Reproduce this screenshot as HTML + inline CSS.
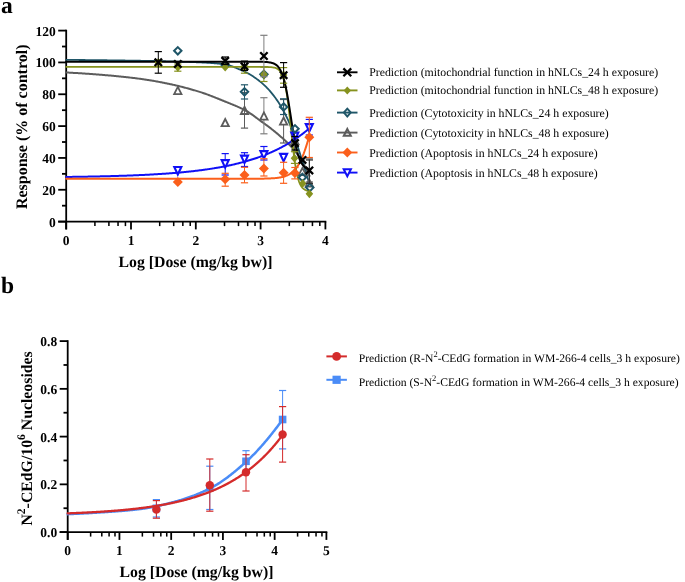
<!DOCTYPE html><html><head><meta charset="utf-8"><style>
html,body{margin:0;padding:0;background:#fff;width:685px;height:582px;overflow:hidden}
svg text{font-family:'Liberation Serif', serif;fill:#000;text-rendering:geometricPrecision}
.tk{font-size:13.5px;font-weight:bold}
.lab{font-size:15.8px;font-weight:bold}
.lg{font-size:11.8px}
.pl{font-size:23.5px;font-weight:bold}
</style></head><body>
<svg width="685" height="582" viewBox="0 0 685 582" style="will-change:transform">
<rect width="685" height="582" fill="#fff"/>
<text x="1" y="12.8" class="pl">a</text>
<text x="1" y="292.9" class="pl">b</text>
<line x1="66.2" y1="29.696000000000005" x2="66.2" y2="229.4" stroke="#000" stroke-width="1.8"/>
<line x1="58.2" y1="221.6" x2="326.29999999999995" y2="221.6" stroke="#000" stroke-width="1.8"/>
<line x1="58.2" y1="221.6" x2="66.2" y2="221.6" stroke="#000" stroke-width="1.8"/>
<line x1="58.2" y1="189.766" x2="66.2" y2="189.766" stroke="#000" stroke-width="1.8"/>
<line x1="58.2" y1="157.93200000000002" x2="66.2" y2="157.93200000000002" stroke="#000" stroke-width="1.8"/>
<line x1="58.2" y1="126.098" x2="66.2" y2="126.098" stroke="#000" stroke-width="1.8"/>
<line x1="58.2" y1="94.26400000000001" x2="66.2" y2="94.26400000000001" stroke="#000" stroke-width="1.8"/>
<line x1="58.2" y1="62.43000000000001" x2="66.2" y2="62.43000000000001" stroke="#000" stroke-width="1.8"/>
<line x1="58.2" y1="30.596000000000004" x2="66.2" y2="30.596000000000004" stroke="#000" stroke-width="1.8"/>
<line x1="62.0" y1="205.683" x2="66.2" y2="205.683" stroke="#000" stroke-width="1.8"/>
<line x1="62.0" y1="173.849" x2="66.2" y2="173.849" stroke="#000" stroke-width="1.8"/>
<line x1="62.0" y1="142.01500000000001" x2="66.2" y2="142.01500000000001" stroke="#000" stroke-width="1.8"/>
<line x1="62.0" y1="110.18100000000001" x2="66.2" y2="110.18100000000001" stroke="#000" stroke-width="1.8"/>
<line x1="62.0" y1="78.34700000000001" x2="66.2" y2="78.34700000000001" stroke="#000" stroke-width="1.8"/>
<line x1="62.0" y1="46.513000000000005" x2="66.2" y2="46.513000000000005" stroke="#000" stroke-width="1.8"/>
<line x1="66.2" y1="221.6" x2="66.2" y2="229.4" stroke="#000" stroke-width="1.8"/>
<line x1="94.91" y1="221.6" x2="94.91" y2="226.1" stroke="#000" stroke-width="1.53"/>
<line x1="108.90" y1="221.6" x2="108.90" y2="226.1" stroke="#000" stroke-width="1.53"/>
<line x1="118.04" y1="221.6" x2="118.04" y2="226.1" stroke="#000" stroke-width="1.53"/>
<line x1="125.43" y1="221.6" x2="125.43" y2="226.1" stroke="#000" stroke-width="1.53"/>
<line x1="131.0" y1="221.6" x2="131.0" y2="229.4" stroke="#000" stroke-width="1.8"/>
<line x1="159.71" y1="221.6" x2="159.71" y2="226.1" stroke="#000" stroke-width="1.53"/>
<line x1="173.70" y1="221.6" x2="173.70" y2="226.1" stroke="#000" stroke-width="1.53"/>
<line x1="182.84" y1="221.6" x2="182.84" y2="226.1" stroke="#000" stroke-width="1.53"/>
<line x1="190.23" y1="221.6" x2="190.23" y2="226.1" stroke="#000" stroke-width="1.53"/>
<line x1="195.8" y1="221.6" x2="195.8" y2="229.4" stroke="#000" stroke-width="1.8"/>
<line x1="224.51" y1="221.6" x2="224.51" y2="226.1" stroke="#000" stroke-width="1.53"/>
<line x1="238.50" y1="221.6" x2="238.50" y2="226.1" stroke="#000" stroke-width="1.53"/>
<line x1="247.64" y1="221.6" x2="247.64" y2="226.1" stroke="#000" stroke-width="1.53"/>
<line x1="255.03" y1="221.6" x2="255.03" y2="226.1" stroke="#000" stroke-width="1.53"/>
<line x1="260.59999999999997" y1="221.6" x2="260.59999999999997" y2="229.4" stroke="#000" stroke-width="1.8"/>
<line x1="289.31" y1="221.6" x2="289.31" y2="226.1" stroke="#000" stroke-width="1.53"/>
<line x1="303.30" y1="221.6" x2="303.30" y2="226.1" stroke="#000" stroke-width="1.53"/>
<line x1="312.44" y1="221.6" x2="312.44" y2="226.1" stroke="#000" stroke-width="1.53"/>
<line x1="319.83" y1="221.6" x2="319.83" y2="226.1" stroke="#000" stroke-width="1.53"/>
<line x1="325.4" y1="221.6" x2="325.4" y2="229.4" stroke="#000" stroke-width="1.8"/>
<text x="55.8" y="226.50" text-anchor="end" class="tk">0</text>
<text x="55.8" y="194.67" text-anchor="end" class="tk">20</text>
<text x="55.8" y="162.83" text-anchor="end" class="tk">40</text>
<text x="55.8" y="131.00" text-anchor="end" class="tk">60</text>
<text x="55.8" y="99.16" text-anchor="end" class="tk">80</text>
<text x="55.8" y="67.33" text-anchor="end" class="tk">100</text>
<text x="55.8" y="35.50" text-anchor="end" class="tk">120</text>
<text x="66.20" y="244.7" text-anchor="middle" class="tk">0</text>
<text x="131.00" y="244.7" text-anchor="middle" class="tk">1</text>
<text x="195.80" y="244.7" text-anchor="middle" class="tk">2</text>
<text x="260.60" y="244.7" text-anchor="middle" class="tk">3</text>
<text x="325.40" y="244.7" text-anchor="middle" class="tk">4</text>
<text x="195.5" y="266.8" text-anchor="middle" class="lab">Log [Dose (mg/kg bw)]</text>
<text transform="translate(27.4,126.8) rotate(-90)" text-anchor="middle" class="lab" style="font-size:16px">Response (% of control)</text>
<path d="M66.20,72.50 L67.01,72.54 L67.83,72.58 L68.64,72.62 L69.45,72.66 L70.27,72.70 L71.08,72.75 L71.90,72.79 L72.71,72.84 L73.52,72.88 L74.34,72.93 L75.15,72.98 L75.96,73.02 L76.78,73.07 L77.59,73.12 L78.41,73.17 L79.22,73.22 L80.03,73.27 L80.85,73.32 L81.66,73.37 L82.47,73.43 L83.29,73.48 L84.10,73.53 L84.92,73.59 L85.73,73.64 L86.54,73.70 L87.36,73.76 L88.17,73.81 L88.98,73.87 L89.80,73.93 L90.61,73.99 L91.43,74.05 L92.24,74.11 L93.05,74.17 L93.87,74.23 L94.68,74.29 L95.49,74.35 L96.31,74.41 L97.12,74.47 L97.93,74.54 L98.75,74.60 L99.56,74.67 L100.38,74.73 L101.19,74.79 L102.00,74.86 L102.82,74.93 L103.63,74.99 L104.44,75.06 L105.26,75.13 L106.07,75.20 L106.89,75.27 L107.70,75.34 L108.51,75.41 L109.33,75.48 L110.14,75.55 L110.95,75.62 L111.77,75.70 L112.58,75.77 L113.40,75.85 L114.21,75.92 L115.02,76.00 L115.84,76.08 L116.65,76.16 L117.46,76.24 L118.28,76.32 L119.09,76.40 L119.91,76.48 L120.72,76.56 L121.53,76.65 L122.35,76.73 L123.16,76.81 L123.97,76.90 L124.79,76.99 L125.60,77.08 L126.41,77.17 L127.23,77.26 L128.04,77.35 L128.86,77.44 L129.67,77.53 L130.48,77.62 L131.30,77.72 L132.11,77.82 L132.92,77.91 L133.74,78.01 L134.55,78.11 L135.37,78.21 L136.18,78.31 L136.99,78.41 L137.81,78.52 L138.62,78.62 L139.43,78.73 L140.25,78.83 L141.06,78.94 L141.88,79.05 L142.69,79.17 L143.50,79.28 L144.32,79.40 L145.13,79.52 L145.94,79.64 L146.76,79.77 L147.57,79.90 L148.38,80.03 L149.20,80.16 L150.01,80.29 L150.83,80.43 L151.64,80.56 L152.45,80.70 L153.27,80.84 L154.08,80.99 L154.89,81.13 L155.71,81.28 L156.52,81.43 L157.34,81.58 L158.15,81.73 L158.96,81.88 L159.78,82.04 L160.59,82.19 L161.40,82.35 L162.22,82.51 L163.03,82.67 L163.85,82.83 L164.66,83.00 L165.47,83.16 L166.29,83.33 L167.10,83.49 L167.91,83.66 L168.73,83.83 L169.54,84.00 L170.36,84.18 L171.17,84.35 L171.98,84.53 L172.80,84.71 L173.61,84.89 L174.42,85.07 L175.24,85.26 L176.05,85.45 L176.86,85.64 L177.68,85.83 L178.49,86.02 L179.31,86.22 L180.12,86.42 L180.93,86.62 L181.75,86.83 L182.56,87.04 L183.37,87.25 L184.19,87.46 L185.00,87.67 L185.82,87.89 L186.63,88.10 L187.44,88.32 L188.26,88.55 L189.07,88.77 L189.88,89.00 L190.70,89.23 L191.51,89.46 L192.33,89.69 L193.14,89.93 L193.95,90.17 L194.77,90.41 L195.58,90.65 L196.39,90.89 L197.21,91.14 L198.02,91.39 L198.84,91.64 L199.65,91.89 L200.46,92.15 L201.28,92.41 L202.09,92.67 L202.90,92.94 L203.72,93.22 L204.53,93.50 L205.34,93.79 L206.16,94.07 L206.97,94.37 L207.79,94.67 L208.60,94.97 L209.41,95.27 L210.23,95.58 L211.04,95.89 L211.85,96.21 L212.67,96.52 L213.48,96.84 L214.30,97.16 L215.11,97.49 L215.92,97.81 L216.74,98.14 L217.55,98.47 L218.36,98.80 L219.18,99.13 L219.99,99.46 L220.81,99.79 L221.62,100.12 L222.43,100.45 L223.25,100.79 L224.06,101.12 L224.87,101.45 L225.69,101.78 L226.50,102.11 L227.32,102.44 L228.13,102.76 L228.94,103.09 L229.76,103.42 L230.57,103.74 L231.38,104.07 L232.20,104.40 L233.01,104.74 L233.82,105.07 L234.64,105.41 L235.45,105.76 L236.27,106.10 L237.08,106.45 L237.89,106.81 L238.71,107.17 L239.52,107.54 L240.33,107.91 L241.15,108.29 L241.96,108.68 L242.78,109.08 L243.59,109.48 L244.40,109.89 L245.22,110.31 L246.03,110.76 L246.84,111.23 L247.66,111.71 L248.47,112.22 L249.29,112.74 L250.10,113.26 L250.91,113.81 L251.73,114.37 L252.54,114.94 L253.35,115.53 L254.17,116.13 L254.98,116.74 L255.79,117.35 L256.61,117.96 L257.42,118.58 L258.24,119.19 L259.05,119.80 L259.86,120.40 L260.68,120.99 L261.49,121.58 L262.30,122.17 L263.12,122.75 L263.93,123.33 L264.75,123.91 L265.56,124.50 L266.37,125.09 L267.19,125.68 L268.00,126.29 L268.81,126.90 L269.63,127.51 L270.44,128.14 L271.26,128.78 L272.07,129.42 L272.88,130.06 L273.70,130.71 L274.51,131.37 L275.32,132.04 L276.14,132.71 L276.95,133.39 L277.77,134.07 L278.58,134.77 L279.39,135.47 L280.21,136.18 L281.02,136.89 L281.83,137.61 L282.65,138.33 L283.46,139.05 L284.27,139.79 L285.09,140.53 L285.90,141.29 L286.72,142.06 L287.53,142.86 L288.34,143.67 L289.16,144.51 L289.97,145.37 L290.78,146.25 L291.60,147.15 L292.41,148.07 L293.23,149.01 L294.04,149.98 L294.85,150.97 L295.67,151.99 L296.48,153.04 L297.29,154.12 L298.11,155.24 L298.92,156.40 L299.74,157.60 L300.55,158.85 L301.36,160.15 L302.18,161.52 L302.99,162.93 L303.80,164.41 L304.62,165.93 L305.43,167.50 L306.25,169.12 L307.06,170.78 L307.87,172.48 L308.69,174.22 L309.50,176.00" fill="none" stroke="#5c5c5c" stroke-width="2.0" stroke-linecap="round" stroke-linejoin="round"/>
<path d="M66.20,176.95 L67.01,176.94 L67.83,176.93 L68.64,176.92 L69.46,176.91 L70.27,176.90 L71.08,176.89 L71.90,176.88 L72.71,176.87 L73.52,176.86 L74.34,176.84 L75.15,176.83 L75.97,176.82 L76.78,176.81 L77.59,176.80 L78.41,176.78 L79.22,176.77 L80.03,176.76 L80.85,176.75 L81.66,176.73 L82.48,176.72 L83.29,176.71 L84.10,176.69 L84.92,176.68 L85.73,176.66 L86.54,176.65 L87.36,176.64 L88.17,176.62 L88.99,176.61 L89.80,176.59 L90.61,176.57 L91.43,176.56 L92.24,176.54 L93.06,176.53 L93.87,176.51 L94.68,176.49 L95.50,176.48 L96.31,176.46 L97.12,176.44 L97.94,176.43 L98.75,176.41 L99.57,176.39 L100.38,176.37 L101.19,176.35 L102.01,176.33 L102.82,176.32 L103.63,176.30 L104.45,176.28 L105.26,176.26 L106.08,176.24 L106.89,176.22 L107.70,176.20 L108.52,176.17 L109.33,176.15 L110.14,176.13 L110.96,176.11 L111.77,176.09 L112.59,176.06 L113.40,176.04 L114.21,176.02 L115.03,176.00 L115.84,175.97 L116.66,175.95 L117.47,175.92 L118.28,175.90 L119.10,175.87 L119.91,175.85 L120.72,175.82 L121.54,175.79 L122.35,175.77 L123.17,175.74 L123.98,175.71 L124.79,175.68 L125.61,175.66 L126.42,175.63 L127.23,175.60 L128.05,175.57 L128.86,175.54 L129.68,175.51 L130.49,175.48 L131.30,175.45 L132.12,175.41 L132.93,175.38 L133.74,175.35 L134.56,175.32 L135.37,175.28 L136.19,175.25 L137.00,175.21 L137.81,175.18 L138.63,175.14 L139.44,175.11 L140.26,175.07 L141.07,175.03 L141.88,175.00 L142.70,174.96 L143.51,174.92 L144.32,174.88 L145.14,174.84 L145.95,174.80 L146.77,174.76 L147.58,174.72 L148.39,174.68 L149.21,174.63 L150.02,174.59 L150.83,174.55 L151.65,174.50 L152.46,174.46 L153.28,174.41 L154.09,174.36 L154.90,174.32 L155.72,174.27 L156.53,174.22 L157.34,174.17 L158.16,174.12 L158.97,174.07 L159.79,174.02 L160.60,173.97 L161.41,173.91 L162.23,173.86 L163.04,173.81 L163.86,173.75 L164.67,173.70 L165.48,173.64 L166.30,173.58 L167.11,173.52 L167.92,173.46 L168.74,173.40 L169.55,173.34 L170.37,173.28 L171.18,173.22 L171.99,173.16 L172.81,173.09 L173.62,173.03 L174.43,172.96 L175.25,172.89 L176.06,172.82 L176.88,172.75 L177.69,172.68 L178.50,172.61 L179.32,172.54 L180.13,172.47 L180.94,172.39 L181.76,172.32 L182.57,172.24 L183.39,172.17 L184.20,172.09 L185.01,172.01 L185.83,171.93 L186.64,171.84 L187.46,171.76 L188.27,171.68 L189.08,171.59 L189.90,171.50 L190.71,171.42 L191.52,171.33 L192.34,171.24 L193.15,171.14 L193.97,171.05 L194.78,170.96 L195.59,170.86 L196.41,170.76 L197.22,170.67 L198.03,170.57 L198.85,170.46 L199.66,170.36 L200.48,170.26 L201.29,170.15 L202.10,170.04 L202.92,169.94 L203.73,169.83 L204.54,169.71 L205.36,169.60 L206.17,169.48 L206.99,169.37 L207.80,169.25 L208.61,169.13 L209.43,169.01 L210.24,168.88 L211.06,168.76 L211.87,168.63 L212.68,168.50 L213.50,168.37 L214.31,168.24 L215.12,168.10 L215.94,167.97 L216.75,167.83 L217.57,167.69 L218.38,167.55 L219.19,167.40 L220.01,167.26 L220.82,167.11 L221.63,166.96 L222.45,166.80 L223.26,166.65 L224.08,166.49 L224.89,166.33 L225.70,166.17 L226.52,166.01 L227.33,165.84 L228.14,165.67 L228.96,165.50 L229.77,165.33 L230.59,165.15 L231.40,164.97 L232.21,164.79 L233.03,164.61 L233.84,164.42 L234.66,164.23 L235.47,164.04 L236.28,163.84 L237.10,163.65 L237.91,163.45 L238.72,163.24 L239.54,163.04 L240.35,162.83 L241.17,162.62 L241.98,162.40 L242.79,162.18 L243.61,161.96 L244.42,161.74 L245.23,161.51 L246.05,161.28 L246.86,161.05 L247.68,160.81 L248.49,160.57 L249.30,160.33 L250.12,160.08 L250.93,159.83 L251.74,159.57 L252.56,159.31 L253.37,159.05 L254.19,158.79 L255.00,158.52 L255.81,158.24 L256.63,157.97 L257.44,157.69 L258.26,157.40 L259.07,157.11 L259.88,156.82 L260.70,156.52 L261.51,156.22 L262.32,155.91 L263.14,155.60 L263.95,155.29 L264.77,154.97 L265.58,154.64 L266.39,154.32 L267.21,153.98 L268.02,153.64 L268.83,153.30 L269.65,152.95 L270.46,152.60 L271.28,152.24 L272.09,151.88 L272.90,151.51 L273.72,151.14 L274.53,150.76 L275.34,150.38 L276.16,149.99 L276.97,149.59 L277.79,149.19 L278.60,148.78 L279.41,148.37 L280.23,147.95 L281.04,147.53 L281.86,147.10 L282.67,146.66 L283.48,146.22 L284.30,145.77 L285.11,145.32 L285.92,144.86 L286.74,144.39 L287.55,143.91 L288.37,143.43 L289.18,142.94 L289.99,142.45 L290.81,141.94 L291.62,141.43 L292.43,140.92 L293.25,140.39 L294.06,139.86 L294.88,139.32 L295.69,138.77 L296.50,138.22 L297.32,137.66 L298.13,137.09 L298.94,136.51 L299.76,135.92 L300.57,135.32 L301.39,134.72 L302.20,134.11 L303.01,133.48 L303.83,132.85 L304.64,132.21 L305.46,131.57 L306.27,130.91 L307.08,130.24 L307.90,129.56 L308.71,128.88 L309.52,128.18" fill="none" stroke="#1010f6" stroke-width="2.0" stroke-linecap="round" stroke-linejoin="round"/>
<path d="M66.20,178.78 L67.01,178.78 L67.83,178.78 L68.64,178.78 L69.46,178.78 L70.27,178.78 L71.08,178.78 L71.90,178.78 L72.71,178.78 L73.52,178.78 L74.34,178.78 L75.15,178.78 L75.97,178.78 L76.78,178.78 L77.59,178.78 L78.41,178.78 L79.22,178.78 L80.03,178.78 L80.85,178.78 L81.66,178.78 L82.48,178.78 L83.29,178.78 L84.10,178.78 L84.92,178.78 L85.73,178.78 L86.54,178.78 L87.36,178.78 L88.17,178.78 L88.99,178.78 L89.80,178.78 L90.61,178.78 L91.43,178.78 L92.24,178.78 L93.06,178.78 L93.87,178.78 L94.68,178.78 L95.50,178.78 L96.31,178.78 L97.12,178.78 L97.94,178.78 L98.75,178.78 L99.57,178.78 L100.38,178.78 L101.19,178.78 L102.01,178.78 L102.82,178.78 L103.63,178.78 L104.45,178.78 L105.26,178.78 L106.08,178.78 L106.89,178.78 L107.70,178.78 L108.52,178.78 L109.33,178.78 L110.14,178.78 L110.96,178.78 L111.77,178.78 L112.59,178.78 L113.40,178.78 L114.21,178.78 L115.03,178.78 L115.84,178.78 L116.66,178.78 L117.47,178.78 L118.28,178.78 L119.10,178.78 L119.91,178.78 L120.72,178.78 L121.54,178.78 L122.35,178.78 L123.17,178.78 L123.98,178.78 L124.79,178.78 L125.61,178.78 L126.42,178.78 L127.23,178.78 L128.05,178.78 L128.86,178.78 L129.68,178.78 L130.49,178.78 L131.30,178.78 L132.12,178.78 L132.93,178.78 L133.74,178.78 L134.56,178.78 L135.37,178.78 L136.19,178.78 L137.00,178.78 L137.81,178.78 L138.63,178.78 L139.44,178.78 L140.26,178.78 L141.07,178.78 L141.88,178.78 L142.70,178.78 L143.51,178.78 L144.32,178.78 L145.14,178.78 L145.95,178.78 L146.77,178.78 L147.58,178.78 L148.39,178.78 L149.21,178.78 L150.02,178.78 L150.83,178.78 L151.65,178.78 L152.46,178.78 L153.28,178.78 L154.09,178.78 L154.90,178.78 L155.72,178.78 L156.53,178.78 L157.34,178.78 L158.16,178.78 L158.97,178.78 L159.79,178.78 L160.60,178.78 L161.41,178.78 L162.23,178.78 L163.04,178.78 L163.86,178.78 L164.67,178.78 L165.48,178.78 L166.30,178.78 L167.11,178.78 L167.92,178.78 L168.74,178.78 L169.55,178.78 L170.37,178.78 L171.18,178.78 L171.99,178.78 L172.81,178.78 L173.62,178.78 L174.43,178.78 L175.25,178.78 L176.06,178.78 L176.88,178.78 L177.69,178.78 L178.50,178.78 L179.32,178.78 L180.13,178.78 L180.94,178.78 L181.76,178.78 L182.57,178.78 L183.39,178.78 L184.20,178.78 L185.01,178.78 L185.83,178.78 L186.64,178.78 L187.46,178.78 L188.27,178.78 L189.08,178.78 L189.90,178.78 L190.71,178.78 L191.52,178.78 L192.34,178.78 L193.15,178.78 L193.97,178.78 L194.78,178.78 L195.59,178.78 L196.41,178.78 L197.22,178.78 L198.03,178.78 L198.85,178.78 L199.66,178.78 L200.48,178.78 L201.29,178.78 L202.10,178.78 L202.92,178.78 L203.73,178.78 L204.54,178.78 L205.36,178.78 L206.17,178.78 L206.99,178.78 L207.80,178.78 L208.61,178.78 L209.43,178.78 L210.24,178.78 L211.06,178.78 L211.87,178.78 L212.68,178.78 L213.50,178.78 L214.31,178.78 L215.12,178.78 L215.94,178.78 L216.75,178.78 L217.57,178.78 L218.38,178.78 L219.19,178.78 L220.01,178.78 L220.82,178.78 L221.63,178.78 L222.45,178.78 L223.26,178.78 L224.08,178.78 L224.89,178.78 L225.70,178.78 L226.52,178.78 L227.33,178.78 L228.14,178.78 L228.96,178.78 L229.77,178.78 L230.59,178.78 L231.40,178.78 L232.21,178.78 L233.03,178.78 L233.84,178.78 L234.66,178.78 L235.47,178.78 L236.28,178.78 L237.10,178.78 L237.91,178.78 L238.72,178.78 L239.54,178.78 L240.35,178.78 L241.17,178.78 L241.98,178.78 L242.79,178.77 L243.61,178.77 L244.42,178.77 L245.23,178.77 L246.05,178.77 L246.86,178.77 L247.68,178.77 L248.49,178.76 L249.30,178.76 L250.12,178.76 L250.93,178.76 L251.74,178.75 L252.56,178.75 L253.37,178.75 L254.19,178.74 L255.00,178.74 L255.81,178.73 L256.63,178.73 L257.44,178.72 L258.26,178.71 L259.07,178.70 L259.88,178.69 L260.70,178.68 L261.51,178.67 L262.32,178.66 L263.14,178.65 L263.95,178.63 L264.77,178.61 L265.58,178.59 L266.39,178.57 L267.21,178.54 L268.02,178.52 L268.83,178.49 L269.65,178.45 L270.46,178.41 L271.28,178.37 L272.09,178.32 L272.90,178.27 L273.72,178.21 L274.53,178.15 L275.34,178.08 L276.16,177.99 L276.97,177.90 L277.79,177.80 L278.60,177.69 L279.41,177.57 L280.23,177.43 L281.04,177.27 L281.86,177.10 L282.67,176.91 L283.48,176.70 L284.30,176.46 L285.11,176.20 L285.92,175.91 L286.74,175.58 L287.55,175.22 L288.37,174.83 L289.18,174.39 L289.99,173.90 L290.81,173.36 L291.62,172.77 L292.43,172.12 L293.25,171.39 L294.06,170.60 L294.88,169.73 L295.69,168.77 L296.50,167.73 L297.32,166.58 L298.13,165.34 L298.94,163.98 L299.76,162.51 L300.57,160.92 L301.39,159.20 L302.20,157.36 L303.01,155.38 L303.83,153.27 L304.64,151.03 L305.46,148.65 L306.27,146.15 L307.08,143.52 L307.90,140.78 L308.71,137.93 L309.52,134.99" fill="none" stroke="#fb5f1b" stroke-width="2.0" stroke-linecap="round" stroke-linejoin="round"/>
<path d="M66.20,59.90 L67.01,59.90 L67.83,59.91 L68.64,59.91 L69.45,59.91 L70.27,59.92 L71.08,59.92 L71.90,59.93 L72.71,59.93 L73.52,59.94 L74.34,59.94 L75.15,59.95 L75.96,59.95 L76.78,59.96 L77.59,59.96 L78.41,59.97 L79.22,59.98 L80.03,59.98 L80.85,59.99 L81.66,59.99 L82.47,60.00 L83.29,60.01 L84.10,60.02 L84.92,60.02 L85.73,60.03 L86.54,60.04 L87.36,60.05 L88.17,60.05 L88.98,60.06 L89.80,60.07 L90.61,60.08 L91.43,60.09 L92.24,60.09 L93.05,60.10 L93.87,60.11 L94.68,60.12 L95.49,60.13 L96.31,60.14 L97.12,60.15 L97.93,60.16 L98.75,60.17 L99.56,60.18 L100.38,60.19 L101.19,60.20 L102.00,60.21 L102.82,60.22 L103.63,60.23 L104.44,60.24 L105.26,60.25 L106.07,60.26 L106.89,60.27 L107.70,60.28 L108.51,60.29 L109.33,60.30 L110.14,60.31 L110.95,60.32 L111.77,60.33 L112.58,60.34 L113.40,60.36 L114.21,60.37 L115.02,60.38 L115.84,60.39 L116.65,60.40 L117.46,60.41 L118.28,60.43 L119.09,60.44 L119.91,60.45 L120.72,60.46 L121.53,60.47 L122.35,60.48 L123.16,60.50 L123.97,60.51 L124.79,60.52 L125.60,60.53 L126.41,60.55 L127.23,60.56 L128.04,60.57 L128.86,60.58 L129.67,60.59 L130.48,60.61 L131.30,60.62 L132.11,60.63 L132.92,60.65 L133.74,60.66 L134.55,60.67 L135.37,60.68 L136.18,60.70 L136.99,60.71 L137.81,60.72 L138.62,60.74 L139.43,60.75 L140.25,60.76 L141.06,60.78 L141.88,60.79 L142.69,60.81 L143.50,60.82 L144.32,60.83 L145.13,60.85 L145.94,60.86 L146.76,60.88 L147.57,60.89 L148.38,60.91 L149.20,60.92 L150.01,60.94 L150.83,60.96 L151.64,60.97 L152.45,60.99 L153.27,61.00 L154.08,61.02 L154.89,61.04 L155.71,61.05 L156.52,61.07 L157.34,61.09 L158.15,61.11 L158.96,61.12 L159.78,61.14 L160.59,61.16 L161.40,61.18 L162.22,61.20 L163.03,61.22 L163.85,61.24 L164.66,61.25 L165.47,61.27 L166.29,61.29 L167.10,61.31 L167.91,61.34 L168.73,61.36 L169.54,61.38 L170.36,61.40 L171.17,61.42 L171.98,61.44 L172.80,61.46 L173.61,61.49 L174.42,61.51 L175.24,61.53 L176.05,61.56 L176.86,61.58 L177.68,61.60 L178.49,61.63 L179.31,61.65 L180.12,61.68 L180.93,61.70 L181.75,61.73 L182.56,61.75 L183.37,61.78 L184.19,61.81 L185.00,61.83 L185.82,61.86 L186.63,61.89 L187.44,61.92 L188.26,61.95 L189.07,61.97 L189.88,62.00 L190.70,62.03 L191.51,62.06 L192.33,62.09 L193.14,62.12 L193.95,62.16 L194.77,62.19 L195.58,62.22 L196.39,62.25 L197.21,62.28 L198.02,62.32 L198.84,62.35 L199.65,62.39 L200.46,62.42 L201.28,62.46 L202.09,62.49 L202.90,62.53 L203.72,62.57 L204.53,62.61 L205.34,62.65 L206.16,62.70 L206.97,62.74 L207.79,62.79 L208.60,62.84 L209.41,62.89 L210.23,62.94 L211.04,63.00 L211.85,63.06 L212.67,63.12 L213.48,63.18 L214.30,63.24 L215.11,63.31 L215.92,63.38 L216.74,63.46 L217.55,63.54 L218.36,63.62 L219.18,63.70 L219.99,63.79 L220.81,63.88 L221.62,63.97 L222.43,64.07 L223.25,64.17 L224.06,64.27 L224.87,64.38 L225.69,64.51 L226.50,64.66 L227.32,64.84 L228.13,65.04 L228.94,65.27 L229.76,65.52 L230.57,65.79 L231.38,66.08 L232.20,66.38 L233.01,66.69 L233.82,67.02 L234.64,67.35 L235.45,67.69 L236.27,68.03 L237.08,68.38 L237.89,68.72 L238.71,69.07 L239.52,69.40 L240.33,69.74 L241.15,70.08 L241.96,70.43 L242.78,70.79 L243.59,71.16 L244.40,71.55 L245.22,71.94 L246.03,72.34 L246.84,72.76 L247.66,73.19 L248.47,73.63 L249.29,74.08 L250.10,74.55 L250.91,75.04 L251.73,75.55 L252.54,76.07 L253.35,76.60 L254.17,77.15 L254.98,77.71 L255.79,78.28 L256.61,78.87 L257.42,79.46 L258.24,80.08 L259.05,80.70 L259.86,81.34 L260.68,82.00 L261.49,82.68 L262.30,83.38 L263.12,84.09 L263.93,84.83 L264.75,85.58 L265.56,86.37 L266.37,87.17 L267.19,88.01 L268.00,88.87 L268.81,89.77 L269.63,90.70 L270.44,91.65 L271.26,92.62 L272.07,93.62 L272.88,94.64 L273.70,95.68 L274.51,96.75 L275.32,97.83 L276.14,98.96 L276.95,100.12 L277.77,101.32 L278.58,102.56 L279.39,103.84 L280.21,105.18 L281.02,106.55 L281.83,107.96 L282.65,109.40 L283.46,110.88 L284.27,112.41 L285.09,113.97 L285.90,115.59 L286.72,117.25 L287.53,118.96 L288.34,120.72 L289.16,122.54 L289.97,124.42 L290.78,126.38 L291.60,128.46 L292.41,130.67 L293.23,132.98 L294.04,135.36 L294.85,137.82 L295.67,140.31 L296.48,142.84 L297.29,145.36 L298.11,147.88 L298.92,150.37 L299.74,152.87 L300.55,155.40 L301.36,157.97 L302.18,160.55 L302.99,163.15 L303.80,165.76 L304.62,168.36 L305.43,170.96 L306.25,173.56 L307.06,176.16 L307.87,178.77 L308.69,181.38 L309.50,184.00" fill="none" stroke="#1f5668" stroke-width="1.8" stroke-linecap="round" stroke-linejoin="round"/>
<path d="M66.20,66.89 L67.01,66.89 L67.83,66.89 L68.64,66.89 L69.46,66.89 L70.27,66.89 L71.08,66.89 L71.90,66.89 L72.71,66.89 L73.52,66.89 L74.34,66.89 L75.15,66.89 L75.97,66.89 L76.78,66.89 L77.59,66.89 L78.41,66.89 L79.22,66.89 L80.03,66.89 L80.85,66.89 L81.66,66.89 L82.48,66.89 L83.29,66.89 L84.10,66.89 L84.92,66.89 L85.73,66.89 L86.54,66.89 L87.36,66.89 L88.17,66.89 L88.99,66.89 L89.80,66.89 L90.61,66.89 L91.43,66.89 L92.24,66.89 L93.06,66.89 L93.87,66.89 L94.68,66.89 L95.50,66.89 L96.31,66.89 L97.12,66.89 L97.94,66.89 L98.75,66.89 L99.57,66.89 L100.38,66.89 L101.19,66.89 L102.01,66.89 L102.82,66.89 L103.63,66.89 L104.45,66.89 L105.26,66.89 L106.08,66.89 L106.89,66.89 L107.70,66.89 L108.52,66.89 L109.33,66.89 L110.14,66.89 L110.96,66.89 L111.77,66.89 L112.59,66.89 L113.40,66.89 L114.21,66.89 L115.03,66.89 L115.84,66.89 L116.66,66.89 L117.47,66.89 L118.28,66.89 L119.10,66.89 L119.91,66.89 L120.72,66.89 L121.54,66.89 L122.35,66.89 L123.17,66.89 L123.98,66.89 L124.79,66.89 L125.61,66.89 L126.42,66.89 L127.23,66.89 L128.05,66.89 L128.86,66.89 L129.68,66.89 L130.49,66.89 L131.30,66.89 L132.12,66.89 L132.93,66.89 L133.74,66.89 L134.56,66.89 L135.37,66.89 L136.19,66.89 L137.00,66.89 L137.81,66.89 L138.63,66.89 L139.44,66.89 L140.26,66.89 L141.07,66.89 L141.88,66.89 L142.70,66.89 L143.51,66.89 L144.32,66.89 L145.14,66.89 L145.95,66.89 L146.77,66.89 L147.58,66.89 L148.39,66.89 L149.21,66.89 L150.02,66.89 L150.83,66.89 L151.65,66.89 L152.46,66.89 L153.28,66.89 L154.09,66.89 L154.90,66.89 L155.72,66.89 L156.53,66.89 L157.34,66.89 L158.16,66.89 L158.97,66.89 L159.79,66.89 L160.60,66.89 L161.41,66.89 L162.23,66.89 L163.04,66.89 L163.86,66.89 L164.67,66.89 L165.48,66.89 L166.30,66.89 L167.11,66.89 L167.92,66.89 L168.74,66.89 L169.55,66.89 L170.37,66.89 L171.18,66.89 L171.99,66.89 L172.81,66.89 L173.62,66.89 L174.43,66.89 L175.25,66.89 L176.06,66.89 L176.88,66.89 L177.69,66.89 L178.50,66.89 L179.32,66.89 L180.13,66.89 L180.94,66.89 L181.76,66.89 L182.57,66.89 L183.39,66.89 L184.20,66.89 L185.01,66.89 L185.83,66.89 L186.64,66.89 L187.46,66.89 L188.27,66.89 L189.08,66.89 L189.90,66.89 L190.71,66.89 L191.52,66.89 L192.34,66.89 L193.15,66.89 L193.97,66.89 L194.78,66.89 L195.59,66.89 L196.41,66.89 L197.22,66.89 L198.03,66.89 L198.85,66.89 L199.66,66.89 L200.48,66.89 L201.29,66.89 L202.10,66.89 L202.92,66.89 L203.73,66.89 L204.54,66.89 L205.36,66.89 L206.17,66.89 L206.99,66.89 L207.80,66.89 L208.61,66.89 L209.43,66.89 L210.24,66.89 L211.06,66.89 L211.87,66.89 L212.68,66.89 L213.50,66.89 L214.31,66.89 L215.12,66.89 L215.94,66.89 L216.75,66.89 L217.57,66.89 L218.38,66.89 L219.19,66.89 L220.01,66.89 L220.82,66.89 L221.63,66.89 L222.45,66.89 L223.26,66.89 L224.08,66.89 L224.89,66.89 L225.70,66.89 L226.52,66.89 L227.33,66.89 L228.14,66.89 L228.96,66.89 L229.77,66.89 L230.59,66.89 L231.40,66.89 L232.21,66.89 L233.03,66.89 L233.84,66.89 L234.66,66.89 L235.47,66.89 L236.28,66.89 L237.10,66.89 L237.91,66.89 L238.72,66.89 L239.54,66.89 L240.35,66.89 L241.17,66.89 L241.98,66.89 L242.79,66.89 L243.61,66.89 L244.42,66.89 L245.23,66.89 L246.05,66.89 L246.86,66.89 L247.68,66.89 L248.49,66.89 L249.30,66.89 L250.12,66.89 L250.93,66.89 L251.74,66.89 L252.56,66.89 L253.37,66.89 L254.19,66.89 L255.00,66.89 L255.81,66.89 L256.63,66.89 L257.44,66.89 L258.26,66.89 L259.07,66.89 L259.88,66.90 L260.70,66.90 L261.51,66.90 L262.32,66.91 L263.14,66.91 L263.95,66.92 L264.77,66.93 L265.58,66.94 L266.39,66.96 L267.21,66.97 L268.02,67.00 L268.83,67.03 L269.65,67.07 L270.46,67.12 L271.28,67.19 L272.09,67.28 L272.90,67.39 L273.72,67.53 L274.53,67.70 L275.34,67.93 L276.16,68.22 L276.97,68.59 L277.79,69.07 L278.60,69.67 L279.41,70.43 L280.23,71.39 L281.04,72.60 L281.86,74.12 L282.67,76.00 L283.48,78.33 L284.30,81.19 L285.11,84.64 L285.92,88.76 L286.74,93.60 L287.55,99.17 L288.37,105.45 L289.18,112.35 L289.99,119.72 L290.81,127.38 L291.62,135.09 L292.43,142.62 L293.25,149.76 L294.06,156.35 L294.88,162.26 L295.69,167.44 L296.50,171.90 L297.32,175.66 L298.13,178.78 L298.94,181.35 L299.76,183.43 L300.57,185.11 L301.39,186.46 L302.20,187.53 L303.01,188.38 L303.83,189.05 L304.64,189.58 L305.46,190.00 L306.27,190.32 L307.08,190.58 L307.90,190.78 L308.71,190.94 L309.52,191.06" fill="none" stroke="#86921e" stroke-width="1.8" stroke-linecap="round" stroke-linejoin="round"/>
<path d="M66.20,61.71 L67.01,61.71 L67.83,61.71 L68.64,61.71 L69.46,61.71 L70.27,61.71 L71.08,61.71 L71.90,61.71 L72.71,61.71 L73.52,61.71 L74.34,61.71 L75.15,61.71 L75.97,61.71 L76.78,61.71 L77.59,61.71 L78.41,61.71 L79.22,61.71 L80.03,61.71 L80.85,61.71 L81.66,61.71 L82.48,61.71 L83.29,61.71 L84.10,61.71 L84.92,61.71 L85.73,61.71 L86.54,61.71 L87.36,61.71 L88.17,61.71 L88.99,61.71 L89.80,61.71 L90.61,61.71 L91.43,61.71 L92.24,61.71 L93.06,61.71 L93.87,61.71 L94.68,61.71 L95.50,61.71 L96.31,61.71 L97.12,61.71 L97.94,61.71 L98.75,61.71 L99.57,61.71 L100.38,61.71 L101.19,61.71 L102.01,61.71 L102.82,61.71 L103.63,61.71 L104.45,61.71 L105.26,61.71 L106.08,61.71 L106.89,61.71 L107.70,61.71 L108.52,61.71 L109.33,61.71 L110.14,61.71 L110.96,61.71 L111.77,61.71 L112.59,61.71 L113.40,61.71 L114.21,61.71 L115.03,61.71 L115.84,61.71 L116.66,61.71 L117.47,61.71 L118.28,61.71 L119.10,61.71 L119.91,61.71 L120.72,61.71 L121.54,61.71 L122.35,61.71 L123.17,61.71 L123.98,61.71 L124.79,61.71 L125.61,61.71 L126.42,61.71 L127.23,61.71 L128.05,61.71 L128.86,61.71 L129.68,61.71 L130.49,61.71 L131.30,61.71 L132.12,61.71 L132.93,61.71 L133.74,61.71 L134.56,61.71 L135.37,61.71 L136.19,61.71 L137.00,61.71 L137.81,61.71 L138.63,61.71 L139.44,61.71 L140.26,61.71 L141.07,61.71 L141.88,61.71 L142.70,61.71 L143.51,61.71 L144.32,61.71 L145.14,61.71 L145.95,61.71 L146.77,61.71 L147.58,61.71 L148.39,61.71 L149.21,61.71 L150.02,61.71 L150.83,61.71 L151.65,61.71 L152.46,61.71 L153.28,61.71 L154.09,61.71 L154.90,61.71 L155.72,61.71 L156.53,61.71 L157.34,61.71 L158.16,61.71 L158.97,61.71 L159.79,61.71 L160.60,61.71 L161.41,61.71 L162.23,61.71 L163.04,61.71 L163.86,61.71 L164.67,61.71 L165.48,61.71 L166.30,61.71 L167.11,61.71 L167.92,61.71 L168.74,61.71 L169.55,61.71 L170.37,61.71 L171.18,61.71 L171.99,61.71 L172.81,61.71 L173.62,61.71 L174.43,61.71 L175.25,61.71 L176.06,61.71 L176.88,61.71 L177.69,61.71 L178.50,61.71 L179.32,61.71 L180.13,61.71 L180.94,61.71 L181.76,61.71 L182.57,61.71 L183.39,61.71 L184.20,61.71 L185.01,61.71 L185.83,61.71 L186.64,61.71 L187.46,61.71 L188.27,61.71 L189.08,61.71 L189.90,61.71 L190.71,61.71 L191.52,61.71 L192.34,61.71 L193.15,61.71 L193.97,61.71 L194.78,61.71 L195.59,61.71 L196.41,61.71 L197.22,61.71 L198.03,61.71 L198.85,61.71 L199.66,61.71 L200.48,61.71 L201.29,61.71 L202.10,61.71 L202.92,61.71 L203.73,61.71 L204.54,61.71 L205.36,61.71 L206.17,61.71 L206.99,61.71 L207.80,61.71 L208.61,61.71 L209.43,61.71 L210.24,61.71 L211.06,61.71 L211.87,61.71 L212.68,61.71 L213.50,61.71 L214.31,61.71 L215.12,61.71 L215.94,61.71 L216.75,61.71 L217.57,61.71 L218.38,61.71 L219.19,61.71 L220.01,61.71 L220.82,61.71 L221.63,61.71 L222.45,61.71 L223.26,61.71 L224.08,61.71 L224.89,61.71 L225.70,61.71 L226.52,61.71 L227.33,61.71 L228.14,61.71 L228.96,61.71 L229.77,61.71 L230.59,61.71 L231.40,61.71 L232.21,61.71 L233.03,61.71 L233.84,61.71 L234.66,61.71 L235.47,61.71 L236.28,61.71 L237.10,61.71 L237.91,61.71 L238.72,61.71 L239.54,61.71 L240.35,61.71 L241.17,61.71 L241.98,61.71 L242.79,61.71 L243.61,61.72 L244.42,61.72 L245.23,61.72 L246.05,61.72 L246.86,61.72 L247.68,61.72 L248.49,61.72 L249.30,61.72 L250.12,61.72 L250.93,61.72 L251.74,61.72 L252.56,61.72 L253.37,61.73 L254.19,61.73 L255.00,61.73 L255.81,61.74 L256.63,61.74 L257.44,61.75 L258.26,61.76 L259.07,61.77 L259.88,61.78 L260.70,61.79 L261.51,61.81 L262.32,61.83 L263.14,61.86 L263.95,61.89 L264.77,61.92 L265.58,61.97 L266.39,62.02 L267.21,62.09 L268.02,62.17 L268.83,62.27 L269.65,62.39 L270.46,62.53 L271.28,62.71 L272.09,62.92 L272.90,63.18 L273.72,63.49 L274.53,63.87 L275.34,64.33 L276.16,64.88 L276.97,65.54 L277.79,66.33 L278.60,67.28 L279.41,68.42 L280.23,69.76 L281.04,71.35 L281.86,73.22 L282.67,75.39 L283.48,77.92 L284.30,80.81 L285.11,84.10 L285.92,87.78 L286.74,91.87 L287.55,96.32 L288.37,101.11 L289.18,106.16 L289.99,111.39 L290.81,116.72 L291.62,122.04 L292.43,127.24 L293.25,132.24 L294.06,136.97 L294.88,141.35 L295.69,145.36 L296.50,148.96 L297.32,152.17 L298.13,154.99 L298.94,157.44 L299.76,159.55 L300.57,161.36 L301.39,162.90 L302.20,164.20 L303.01,165.29 L303.83,166.21 L304.64,166.97 L305.46,167.61 L306.27,168.14 L307.08,168.58 L307.90,168.94 L308.71,169.24 L309.52,169.49" fill="none" stroke="#000000" stroke-width="2.0" stroke-linecap="round" stroke-linejoin="round"/>
<line x1="244.50" y1="92.50" x2="244.50" y2="128.10" stroke="#5c5c5c" stroke-width="1.0"/><line x1="240.90" y1="92.50" x2="248.10" y2="92.50" stroke="#5c5c5c" stroke-width="1.2"/><line x1="240.90" y1="128.10" x2="248.10" y2="128.10" stroke="#5c5c5c" stroke-width="1.2"/>
<line x1="263.90" y1="97.70" x2="263.90" y2="133.80" stroke="#7d7d7d" stroke-width="1.0"/><line x1="260.30" y1="97.70" x2="267.50" y2="97.70" stroke="#7d7d7d" stroke-width="1.2"/><line x1="260.30" y1="133.80" x2="267.50" y2="133.80" stroke="#7d7d7d" stroke-width="1.2"/>
<line x1="283.60" y1="99.50" x2="283.60" y2="143.00" stroke="#5c5c5c" stroke-width="1.0"/><line x1="280.00" y1="99.50" x2="287.20" y2="99.50" stroke="#5c5c5c" stroke-width="1.2"/><line x1="280.00" y1="143.00" x2="287.20" y2="143.00" stroke="#5c5c5c" stroke-width="1.2"/>
<line x1="309.30" y1="158.90" x2="309.30" y2="182.00" stroke="#5c5c5c" stroke-width="1.0"/><line x1="305.70" y1="158.90" x2="312.90" y2="158.90" stroke="#5c5c5c" stroke-width="1.2"/><line x1="305.70" y1="182.00" x2="312.90" y2="182.00" stroke="#5c5c5c" stroke-width="1.2"/>
<path d="M177.80,86.88 L181.46,94.12 L174.14,94.12 Z" fill="#fff" stroke="#5c5c5c" stroke-width="1.8" stroke-linejoin="miter"/>
<path d="M225.20,118.98 L228.86,126.22 L221.54,126.22 Z" fill="#fff" stroke="#5c5c5c" stroke-width="1.8" stroke-linejoin="miter"/>
<path d="M244.50,106.78 L248.16,114.02 L240.84,114.02 Z" fill="none" stroke="#5c5c5c" stroke-width="1.8" stroke-linejoin="miter"/>
<path d="M263.90,112.38 L267.56,119.62 L260.24,119.62 Z" fill="#fff" stroke="#5c5c5c" stroke-width="1.8" stroke-linejoin="miter"/>
<path d="M283.60,117.48 L287.26,124.72 L279.94,124.72 Z" fill="#fff" stroke="#5c5c5c" stroke-width="1.8" stroke-linejoin="miter"/>
<path d="M294.80,136.88 L298.46,144.12 L291.14,144.12 Z" fill="none" stroke="#5c5c5c" stroke-width="1.8" stroke-linejoin="miter"/>
<path d="M302.40,167.88 L306.06,175.12 L298.74,175.12 Z" fill="none" stroke="#5c5c5c" stroke-width="1.8" stroke-linejoin="miter"/>
<path d="M309.30,179.38 L312.96,186.62 L305.64,186.62 Z" fill="none" stroke="#5c5c5c" stroke-width="1.8" stroke-linejoin="miter"/>
<line x1="225.20" y1="153.60" x2="225.20" y2="175.00" stroke="#1010f6" stroke-width="1.0"/><line x1="221.60" y1="153.60" x2="228.80" y2="153.60" stroke="#1010f6" stroke-width="1.2"/><line x1="221.60" y1="175.00" x2="228.80" y2="175.00" stroke="#1010f6" stroke-width="1.2"/>
<line x1="244.50" y1="152.70" x2="244.50" y2="166.50" stroke="#1010f6" stroke-width="1.0"/><line x1="240.90" y1="152.70" x2="248.10" y2="152.70" stroke="#1010f6" stroke-width="1.2"/><line x1="240.90" y1="166.50" x2="248.10" y2="166.50" stroke="#1010f6" stroke-width="1.2"/>
<line x1="263.90" y1="146.50" x2="263.90" y2="160.00" stroke="#1010f6" stroke-width="1.0"/><line x1="260.30" y1="146.50" x2="267.50" y2="146.50" stroke="#1010f6" stroke-width="1.2"/><line x1="260.30" y1="160.00" x2="267.50" y2="160.00" stroke="#1010f6" stroke-width="1.2"/>
<line x1="309.30" y1="119.40" x2="309.30" y2="135.00" stroke="#1010f6" stroke-width="1.0"/><line x1="305.70" y1="119.40" x2="312.90" y2="119.40" stroke="#1010f6" stroke-width="1.2"/><line x1="305.70" y1="135.00" x2="312.90" y2="135.00" stroke="#1010f6" stroke-width="1.2"/>
<path d="M177.80,174.44 L181.32,166.96 L174.28,166.96 Z" fill="#fff" stroke="#1010f6" stroke-width="2.1" stroke-linejoin="miter"/>
<path d="M225.20,167.64 L228.72,160.16 L221.68,160.16 Z" fill="#fff" stroke="#1010f6" stroke-width="2.1" stroke-linejoin="miter"/>
<path d="M244.50,163.14 L248.02,155.66 L240.98,155.66 Z" fill="#fff" stroke="#1010f6" stroke-width="2.1" stroke-linejoin="miter"/>
<path d="M263.90,158.64 L267.42,151.16 L260.38,151.16 Z" fill="#fff" stroke="#1010f6" stroke-width="2.1" stroke-linejoin="miter"/>
<path d="M283.60,161.34 L287.12,153.86 L280.08,153.86 Z" fill="#fff" stroke="#1010f6" stroke-width="2.1" stroke-linejoin="miter"/>
<path d="M309.30,131.64 L312.82,124.16 L305.78,124.16 Z" fill="#fff" stroke="#1010f6" stroke-width="2.1" stroke-linejoin="miter"/>
<path d="M294.80,140.14 L298.32,132.66 L291.28,132.66 Z" fill="none" stroke="#1010f6" stroke-width="2.1" stroke-linejoin="miter"/>
<line x1="225.20" y1="173.30" x2="225.20" y2="186.20" stroke="#fb5f1b" stroke-width="1.0"/><line x1="221.60" y1="173.30" x2="228.80" y2="173.30" stroke="#fb5f1b" stroke-width="1.2"/><line x1="221.60" y1="186.20" x2="228.80" y2="186.20" stroke="#fb5f1b" stroke-width="1.2"/>
<line x1="244.50" y1="167.30" x2="244.50" y2="182.80" stroke="#fb5f1b" stroke-width="1.0"/><line x1="240.90" y1="167.30" x2="248.10" y2="167.30" stroke="#fb5f1b" stroke-width="1.2"/><line x1="240.90" y1="182.80" x2="248.10" y2="182.80" stroke="#fb5f1b" stroke-width="1.2"/>
<line x1="263.90" y1="158.70" x2="263.90" y2="176.00" stroke="#fb5f1b" stroke-width="1.0"/><line x1="260.30" y1="158.70" x2="267.50" y2="158.70" stroke="#fb5f1b" stroke-width="1.2"/><line x1="260.30" y1="176.00" x2="267.50" y2="176.00" stroke="#fb5f1b" stroke-width="1.2"/>
<line x1="283.60" y1="162.30" x2="283.60" y2="183.30" stroke="#fb5f1b" stroke-width="1.0"/><line x1="280.00" y1="162.30" x2="287.20" y2="162.30" stroke="#fb5f1b" stroke-width="1.2"/><line x1="280.00" y1="183.30" x2="287.20" y2="183.30" stroke="#fb5f1b" stroke-width="1.2"/>
<line x1="294.90" y1="167.50" x2="294.90" y2="178.90" stroke="#fb5f1b" stroke-width="1.0"/><line x1="291.30" y1="167.50" x2="298.50" y2="167.50" stroke="#fb5f1b" stroke-width="1.2"/><line x1="291.30" y1="178.90" x2="298.50" y2="178.90" stroke="#fb5f1b" stroke-width="1.2"/>
<line x1="309.30" y1="117.30" x2="309.30" y2="157.50" stroke="#fb5f1b" stroke-width="1.0"/><line x1="305.70" y1="117.30" x2="312.90" y2="117.30" stroke="#fb5f1b" stroke-width="1.2"/><line x1="305.70" y1="157.50" x2="312.90" y2="157.50" stroke="#fb5f1b" stroke-width="1.2"/>
<path d="M177.80,177.10 L182.80,182.10 L177.80,187.10 L172.80,182.10 Z" fill="#fb5f1b"/>
<path d="M225.20,174.30 L230.20,179.30 L225.20,184.30 L220.20,179.30 Z" fill="#fb5f1b"/>
<path d="M244.50,170.00 L249.50,175.00 L244.50,180.00 L239.50,175.00 Z" fill="#fb5f1b"/>
<path d="M263.90,163.50 L268.90,168.50 L263.90,173.50 L258.90,168.50 Z" fill="#fb5f1b"/>
<path d="M283.60,167.80 L288.60,172.80 L283.60,177.80 L278.60,172.80 Z" fill="#fb5f1b"/>
<path d="M294.90,168.00 L299.90,173.00 L294.90,178.00 L289.90,173.00 Z" fill="#fb5f1b"/>
<path d="M309.30,132.20 L314.30,137.20 L309.30,142.20 L304.30,137.20 Z" fill="#fb5f1b"/>
<line x1="244.50" y1="84.80" x2="244.50" y2="99.00" stroke="#1f5668" stroke-width="1.0"/><line x1="240.90" y1="84.80" x2="248.10" y2="84.80" stroke="#1f5668" stroke-width="1.2"/><line x1="240.90" y1="99.00" x2="248.10" y2="99.00" stroke="#1f5668" stroke-width="1.2"/>
<line x1="283.60" y1="98.80" x2="283.60" y2="114.50" stroke="#1f5668" stroke-width="1.0"/><line x1="280.00" y1="98.80" x2="287.20" y2="98.80" stroke="#1f5668" stroke-width="1.2"/><line x1="280.00" y1="114.50" x2="287.20" y2="114.50" stroke="#1f5668" stroke-width="1.2"/>
<path d="M177.80,47.10 L181.50,50.80 L177.80,54.50 L174.10,50.80 Z" fill="none" stroke="#1f5668" stroke-width="2.0"/>
<path d="M225.20,61.30 L228.90,65.00 L225.20,68.70 L221.50,65.00 Z" fill="none" stroke="#1f5668" stroke-width="2.0"/>
<path d="M244.50,88.10 L248.20,91.80 L244.50,95.50 L240.80,91.80 Z" fill="none" stroke="#1f5668" stroke-width="2.0"/>
<path d="M263.90,70.60 L267.60,74.30 L263.90,78.00 L260.20,74.30 Z" fill="none" stroke="#1f5668" stroke-width="2.0"/>
<path d="M283.60,103.30 L287.30,107.00 L283.60,110.70 L279.90,107.00 Z" fill="none" stroke="#1f5668" stroke-width="2.0"/>
<path d="M295.00,125.10 L298.70,128.80 L295.00,132.50 L291.30,128.80 Z" fill="none" stroke="#1f5668" stroke-width="2.0"/>
<path d="M302.40,173.70 L306.10,177.40 L302.40,181.10 L298.70,177.40 Z" fill="none" stroke="#1f5668" stroke-width="2.0"/>
<path d="M309.80,183.90 L313.50,187.60 L309.80,191.30 L306.10,187.60 Z" fill="none" stroke="#1f5668" stroke-width="2.0"/>
<line x1="177.80" y1="64.00" x2="177.80" y2="71.20" stroke="#86921e" stroke-width="1.0"/><line x1="174.20" y1="64.00" x2="181.40" y2="64.00" stroke="#86921e" stroke-width="1.2"/><line x1="174.20" y1="71.20" x2="181.40" y2="71.20" stroke="#86921e" stroke-width="1.2"/>
<line x1="244.50" y1="66.00" x2="244.50" y2="73.20" stroke="#86921e" stroke-width="1.0"/><line x1="240.90" y1="66.00" x2="248.10" y2="66.00" stroke="#86921e" stroke-width="1.2"/><line x1="240.90" y1="73.20" x2="248.10" y2="73.20" stroke="#86921e" stroke-width="1.2"/>
<line x1="263.90" y1="67.20" x2="263.90" y2="81.50" stroke="#86921e" stroke-width="1.0"/><line x1="260.30" y1="67.20" x2="267.50" y2="67.20" stroke="#86921e" stroke-width="1.2"/><line x1="260.30" y1="81.50" x2="267.50" y2="81.50" stroke="#86921e" stroke-width="1.2"/>
<line x1="283.60" y1="67.60" x2="283.60" y2="83.20" stroke="#86921e" stroke-width="1.0"/><line x1="280.00" y1="67.60" x2="287.20" y2="67.60" stroke="#86921e" stroke-width="1.2"/><line x1="280.00" y1="83.20" x2="287.20" y2="83.20" stroke="#86921e" stroke-width="1.2"/>
<line x1="294.50" y1="151.70" x2="294.50" y2="163.40" stroke="#86921e" stroke-width="1.0"/><line x1="290.90" y1="151.70" x2="298.10" y2="151.70" stroke="#86921e" stroke-width="1.2"/><line x1="290.90" y1="163.40" x2="298.10" y2="163.40" stroke="#86921e" stroke-width="1.2"/>
<path d="M158.30,58.10 L162.10,62.50 L158.30,66.90 L154.50,62.50 Z" fill="#86921e"/>
<path d="M177.80,62.90 L181.60,67.30 L177.80,71.70 L174.00,67.30 Z" fill="#86921e"/>
<path d="M225.20,62.80 L229.00,67.20 L225.20,71.60 L221.40,67.20 Z" fill="#86921e"/>
<path d="M244.50,63.60 L248.30,68.00 L244.50,72.40 L240.70,68.00 Z" fill="#86921e"/>
<path d="M263.90,69.90 L267.70,74.30 L263.90,78.70 L260.10,74.30 Z" fill="#86921e"/>
<path d="M283.60,70.60 L287.40,75.00 L283.60,79.40 L279.80,75.00 Z" fill="#86921e"/>
<path d="M294.50,153.80 L298.30,158.20 L294.50,162.60 L290.70,158.20 Z" fill="#86921e"/>
<path d="M302.70,179.00 L306.50,183.40 L302.70,187.80 L298.90,183.40 Z" fill="#86921e"/>
<path d="M309.40,189.40 L313.20,193.80 L309.40,198.20 L305.60,193.80 Z" fill="#86921e"/>
<line x1="158.30" y1="51.60" x2="158.30" y2="73.20" stroke="#000000" stroke-width="1.0"/><line x1="154.70" y1="51.60" x2="161.90" y2="51.60" stroke="#000000" stroke-width="1.2"/><line x1="154.70" y1="73.20" x2="161.90" y2="73.20" stroke="#000000" stroke-width="1.2"/>
<line x1="225.20" y1="57.00" x2="225.20" y2="64.50" stroke="#000000" stroke-width="1.0"/><line x1="221.60" y1="57.00" x2="228.80" y2="57.00" stroke="#000000" stroke-width="1.2"/><line x1="221.60" y1="64.50" x2="228.80" y2="64.50" stroke="#000000" stroke-width="1.2"/>
<line x1="244.50" y1="61.10" x2="244.50" y2="70.50" stroke="#000000" stroke-width="1.0"/><line x1="240.90" y1="61.10" x2="248.10" y2="61.10" stroke="#000000" stroke-width="1.2"/><line x1="240.90" y1="70.50" x2="248.10" y2="70.50" stroke="#000000" stroke-width="1.2"/>
<line x1="263.90" y1="35.30" x2="263.90" y2="76.70" stroke="#7d7d7d" stroke-width="1.0"/><line x1="260.30" y1="35.30" x2="267.50" y2="35.30" stroke="#7d7d7d" stroke-width="1.2"/><line x1="260.30" y1="76.70" x2="267.50" y2="76.70" stroke="#7d7d7d" stroke-width="1.2"/>
<line x1="283.60" y1="62.60" x2="283.60" y2="87.30" stroke="#000000" stroke-width="1.0"/><line x1="280.00" y1="62.60" x2="287.20" y2="62.60" stroke="#000000" stroke-width="1.2"/><line x1="280.00" y1="87.30" x2="287.20" y2="87.30" stroke="#000000" stroke-width="1.2"/>
<line x1="294.90" y1="136.50" x2="294.90" y2="150.00" stroke="#000000" stroke-width="1.0"/><line x1="291.30" y1="136.50" x2="298.50" y2="136.50" stroke="#000000" stroke-width="1.2"/><line x1="291.30" y1="150.00" x2="298.50" y2="150.00" stroke="#000000" stroke-width="1.2"/>
<line x1="309.40" y1="160.00" x2="309.40" y2="183.40" stroke="#333" stroke-width="1.0"/><line x1="305.80" y1="160.00" x2="313.00" y2="160.00" stroke="#333" stroke-width="1.2"/><line x1="305.80" y1="183.40" x2="313.00" y2="183.40" stroke="#333" stroke-width="1.2"/>
<path d="M154.60,58.60 L162.00,66.00 M154.60,66.00 L162.00,58.60" stroke="#000" stroke-width="2.3" fill="none"/>
<path d="M174.10,60.20 L181.50,67.60 M174.10,67.60 L181.50,60.20" stroke="#000" stroke-width="2.3" fill="none"/>
<path d="M221.50,57.10 L228.90,64.50 M221.50,64.50 L228.90,57.10" stroke="#000" stroke-width="2.3" fill="none"/>
<path d="M240.80,62.60 L248.20,70.00 M240.80,70.00 L248.20,62.60" stroke="#000" stroke-width="2.3" fill="none"/>
<path d="M260.20,52.30 L267.60,59.70 M260.20,59.70 L267.60,52.30" stroke="#000" stroke-width="2.3" fill="none"/>
<path d="M279.90,71.50 L287.30,78.90 M279.90,78.90 L287.30,71.50" stroke="#000" stroke-width="2.3" fill="none"/>
<path d="M291.30,139.40 L298.70,146.80 M291.30,146.80 L298.70,139.40" stroke="#000" stroke-width="2.3" fill="none"/>
<path d="M298.80,156.20 L306.20,163.60 M298.80,163.60 L306.20,156.20" stroke="#000" stroke-width="2.3" fill="none"/>
<path d="M305.70,166.70 L313.10,174.10 M305.70,174.10 L313.10,166.70" stroke="#000" stroke-width="2.3" fill="none"/>
<line x1="337" y1="72.3" x2="357.5" y2="72.3" stroke="#000000" stroke-width="1.9"/>
<path d="M343.40,68.40 L351.20,76.20 M343.40,76.20 L351.20,68.40" stroke="#000" stroke-width="2.3" fill="none"/>
<text x="369.2" y="76.3" class="lg">Prediction (mitochondrial function in hNLCs_24 h exposure)</text>
<line x1="337" y1="90.4" x2="357.5" y2="90.4" stroke="#86921e" stroke-width="1.9"/>
<path d="M347.30,86.40 L351.00,90.40 L347.30,94.40 L343.60,90.40 Z" fill="#86921e"/>
<text x="369.2" y="94.4" class="lg">Prediction (mitochondrial function in hNLCs_48 h exposure)</text>
<line x1="337" y1="112.6" x2="357.5" y2="112.6" stroke="#1f5668" stroke-width="1.9"/>
<path d="M347.30,108.74 L350.76,112.60 L347.30,116.46 L343.84,112.60 Z" fill="none" stroke="#1f5668" stroke-width="1.9"/>
<text x="369.2" y="116.6" class="lg">Prediction (Cytotoxicity in hNLCs_24 h exposure)</text>
<line x1="337" y1="132.6" x2="357.5" y2="132.6" stroke="#5c5c5c" stroke-width="1.9"/>
<path d="M347.30,129.00 L350.80,135.80 L343.80,135.80 Z" fill="none" stroke="#5c5c5c" stroke-width="2.0" stroke-linejoin="miter"/>
<text x="369.2" y="136.6" class="lg">Prediction (Cytotoxicity in hNLCs_48 h exposure)</text>
<line x1="337" y1="152.5" x2="357.5" y2="152.5" stroke="#fb5f1b" stroke-width="1.9"/>
<path d="M347.30,147.40 L352.20,152.50 L347.30,157.60 L342.40,152.50 Z" fill="#fb5f1b"/>
<text x="369.2" y="156.5" class="lg">Prediction (Apoptosis in hNLCs_24 h exposure)</text>
<line x1="337" y1="172.6" x2="357.5" y2="172.6" stroke="#1010f6" stroke-width="1.9"/>
<path d="M347.30,176.25 L350.90,169.15 L343.70,169.15 Z" fill="#fff" stroke="#1010f6" stroke-width="2.0" stroke-linejoin="miter"/>
<text x="369.2" y="176.6" class="lg">Prediction (Apoptosis in hNLCs_48 h exposure)</text>
<line x1="67.7" y1="340.20000000000005" x2="67.7" y2="539.9" stroke="#000" stroke-width="1.8"/>
<line x1="59.7" y1="532.1" x2="327.29999999999995" y2="532.1" stroke="#000" stroke-width="1.8"/>
<line x1="59.7" y1="532.1" x2="67.7" y2="532.1" stroke="#000" stroke-width="1.8"/>
<line x1="59.7" y1="484.35" x2="67.7" y2="484.35" stroke="#000" stroke-width="1.8"/>
<line x1="59.7" y1="436.6" x2="67.7" y2="436.6" stroke="#000" stroke-width="1.8"/>
<line x1="59.7" y1="388.85" x2="67.7" y2="388.85" stroke="#000" stroke-width="1.8"/>
<line x1="59.7" y1="341.1" x2="67.7" y2="341.1" stroke="#000" stroke-width="1.8"/>
<line x1="63.5" y1="508.225" x2="67.7" y2="508.225" stroke="#000" stroke-width="1.8"/>
<line x1="63.5" y1="460.475" x2="67.7" y2="460.475" stroke="#000" stroke-width="1.8"/>
<line x1="63.5" y1="412.725" x2="67.7" y2="412.725" stroke="#000" stroke-width="1.8"/>
<line x1="63.5" y1="364.975" x2="67.7" y2="364.975" stroke="#000" stroke-width="1.8"/>
<line x1="67.7" y1="532.1" x2="67.7" y2="539.9" stroke="#000" stroke-width="1.8"/>
<line x1="90.62" y1="532.1" x2="90.62" y2="536.6" stroke="#000" stroke-width="1.53"/>
<line x1="101.80" y1="532.1" x2="101.80" y2="536.6" stroke="#000" stroke-width="1.53"/>
<line x1="109.09" y1="532.1" x2="109.09" y2="536.6" stroke="#000" stroke-width="1.53"/>
<line x1="114.99" y1="532.1" x2="114.99" y2="536.6" stroke="#000" stroke-width="1.53"/>
<line x1="119.44" y1="532.1" x2="119.44" y2="539.9" stroke="#000" stroke-width="1.8"/>
<line x1="142.36" y1="532.1" x2="142.36" y2="536.6" stroke="#000" stroke-width="1.53"/>
<line x1="153.54" y1="532.1" x2="153.54" y2="536.6" stroke="#000" stroke-width="1.53"/>
<line x1="160.83" y1="532.1" x2="160.83" y2="536.6" stroke="#000" stroke-width="1.53"/>
<line x1="166.73" y1="532.1" x2="166.73" y2="536.6" stroke="#000" stroke-width="1.53"/>
<line x1="171.18" y1="532.1" x2="171.18" y2="539.9" stroke="#000" stroke-width="1.8"/>
<line x1="194.10" y1="532.1" x2="194.10" y2="536.6" stroke="#000" stroke-width="1.53"/>
<line x1="205.28" y1="532.1" x2="205.28" y2="536.6" stroke="#000" stroke-width="1.53"/>
<line x1="212.57" y1="532.1" x2="212.57" y2="536.6" stroke="#000" stroke-width="1.53"/>
<line x1="218.47" y1="532.1" x2="218.47" y2="536.6" stroke="#000" stroke-width="1.53"/>
<line x1="222.92000000000002" y1="532.1" x2="222.92000000000002" y2="539.9" stroke="#000" stroke-width="1.8"/>
<line x1="245.84" y1="532.1" x2="245.84" y2="536.6" stroke="#000" stroke-width="1.53"/>
<line x1="257.02" y1="532.1" x2="257.02" y2="536.6" stroke="#000" stroke-width="1.53"/>
<line x1="264.31" y1="532.1" x2="264.31" y2="536.6" stroke="#000" stroke-width="1.53"/>
<line x1="270.21" y1="532.1" x2="270.21" y2="536.6" stroke="#000" stroke-width="1.53"/>
<line x1="274.66" y1="532.1" x2="274.66" y2="539.9" stroke="#000" stroke-width="1.8"/>
<line x1="297.58" y1="532.1" x2="297.58" y2="536.6" stroke="#000" stroke-width="1.53"/>
<line x1="308.76" y1="532.1" x2="308.76" y2="536.6" stroke="#000" stroke-width="1.53"/>
<line x1="316.05" y1="532.1" x2="316.05" y2="536.6" stroke="#000" stroke-width="1.53"/>
<line x1="321.95" y1="532.1" x2="321.95" y2="536.6" stroke="#000" stroke-width="1.53"/>
<line x1="326.4" y1="532.1" x2="326.4" y2="539.9" stroke="#000" stroke-width="1.8"/>
<text x="57.2" y="537.00" text-anchor="end" class="tk">0.0</text>
<text x="57.2" y="489.25" text-anchor="end" class="tk">0.2</text>
<text x="57.2" y="441.50" text-anchor="end" class="tk">0.4</text>
<text x="57.2" y="393.75" text-anchor="end" class="tk">0.6</text>
<text x="57.2" y="346.00" text-anchor="end" class="tk">0.8</text>
<text x="67.70" y="554.7" text-anchor="middle" class="tk">0</text>
<text x="119.44" y="554.7" text-anchor="middle" class="tk">1</text>
<text x="171.18" y="554.7" text-anchor="middle" class="tk">2</text>
<text x="222.92" y="554.7" text-anchor="middle" class="tk">3</text>
<text x="274.66" y="554.7" text-anchor="middle" class="tk">4</text>
<text x="326.40" y="554.7" text-anchor="middle" class="tk">5</text>
<text x="196.5" y="576.8" text-anchor="middle" class="lab">Log [Dose (mg/kg bw)]</text>
<text transform="translate(31.6,438.4) rotate(-90)" text-anchor="middle" class="lab">N<tspan font-size="11.5" dy="-7">2</tspan><tspan dy="7">-CEdG/10</tspan><tspan font-size="11.5" dy="-7">6</tspan><tspan dy="7"> Nucleosides</tspan></text>
<path d="M67.70,514.15 L68.42,514.12 L69.14,514.09 L69.86,514.06 L70.58,514.03 L71.29,514.00 L72.01,513.97 L72.73,513.94 L73.45,513.90 L74.17,513.87 L74.89,513.84 L75.61,513.81 L76.33,513.77 L77.05,513.74 L77.77,513.70 L78.48,513.67 L79.20,513.63 L79.92,513.59 L80.64,513.56 L81.36,513.52 L82.08,513.48 L82.80,513.45 L83.52,513.41 L84.24,513.37 L84.96,513.33 L85.67,513.29 L86.39,513.25 L87.11,513.21 L87.83,513.17 L88.55,513.13 L89.27,513.08 L89.99,513.04 L90.71,513.00 L91.43,512.96 L92.15,512.91 L92.86,512.87 L93.58,512.83 L94.30,512.78 L95.02,512.74 L95.74,512.69 L96.46,512.65 L97.18,512.60 L97.90,512.56 L98.62,512.51 L99.34,512.47 L100.05,512.42 L100.77,512.37 L101.49,512.33 L102.21,512.28 L102.93,512.23 L103.65,512.18 L104.37,512.13 L105.09,512.09 L105.81,512.04 L106.53,511.99 L107.24,511.94 L107.96,511.89 L108.68,511.84 L109.40,511.79 L110.12,511.74 L110.84,511.69 L111.56,511.64 L112.28,511.59 L113.00,511.54 L113.72,511.49 L114.43,511.44 L115.15,511.39 L115.87,511.33 L116.59,511.28 L117.31,511.23 L118.03,511.17 L118.75,511.12 L119.47,511.06 L120.19,511.01 L120.91,510.95 L121.62,510.89 L122.34,510.83 L123.06,510.77 L123.78,510.71 L124.50,510.65 L125.22,510.59 L125.94,510.52 L126.66,510.46 L127.38,510.40 L128.10,510.33 L128.81,510.26 L129.53,510.19 L130.25,510.12 L130.97,510.05 L131.69,509.98 L132.41,509.91 L133.13,509.83 L133.85,509.76 L134.57,509.68 L135.29,509.60 L136.00,509.53 L136.72,509.44 L137.44,509.36 L138.16,509.28 L138.88,509.19 L139.60,509.11 L140.32,509.02 L141.04,508.93 L141.76,508.83 L142.48,508.73 L143.19,508.63 L143.91,508.53 L144.63,508.42 L145.35,508.31 L146.07,508.20 L146.79,508.08 L147.51,507.96 L148.23,507.84 L148.95,507.71 L149.67,507.58 L150.38,507.45 L151.10,507.32 L151.82,507.18 L152.54,507.05 L153.26,506.90 L153.98,506.76 L154.70,506.61 L155.42,506.46 L156.14,506.31 L156.86,506.16 L157.57,506.00 L158.29,505.85 L159.01,505.69 L159.73,505.52 L160.45,505.36 L161.17,505.19 L161.89,505.03 L162.61,504.86 L163.33,504.68 L164.05,504.51 L164.76,504.33 L165.48,504.16 L166.20,503.98 L166.92,503.80 L167.64,503.62 L168.36,503.43 L169.08,503.25 L169.80,503.06 L170.52,502.87 L171.24,502.68 L171.95,502.49 L172.67,502.30 L173.39,502.11 L174.11,501.91 L174.83,501.72 L175.55,501.52 L176.27,501.32 L176.99,501.13 L177.71,500.92 L178.43,500.72 L179.14,500.51 L179.86,500.30 L180.58,500.09 L181.30,499.87 L182.02,499.65 L182.74,499.42 L183.46,499.20 L184.18,498.97 L184.90,498.73 L185.62,498.50 L186.33,498.26 L187.05,498.01 L187.77,497.77 L188.49,497.52 L189.21,497.26 L189.93,497.01 L190.65,496.75 L191.37,496.48 L192.09,496.22 L192.81,495.95 L193.52,495.67 L194.24,495.40 L194.96,495.11 L195.68,494.83 L196.40,494.54 L197.12,494.25 L197.84,493.96 L198.56,493.66 L199.28,493.35 L200.00,493.05 L200.71,492.74 L201.43,492.42 L202.15,492.11 L202.87,491.79 L203.59,491.46 L204.31,491.13 L205.03,490.80 L205.75,490.46 L206.47,490.12 L207.19,489.78 L207.90,489.43 L208.62,489.08 L209.34,488.72 L210.06,488.36 L210.78,487.99 L211.50,487.62 L212.22,487.23 L212.94,486.84 L213.66,486.44 L214.38,486.03 L215.09,485.61 L215.81,485.18 L216.53,484.75 L217.25,484.31 L217.97,483.86 L218.69,483.41 L219.41,482.95 L220.13,482.48 L220.85,482.00 L221.57,481.52 L222.28,481.03 L223.00,480.53 L223.72,480.03 L224.44,479.52 L225.16,479.00 L225.88,478.48 L226.60,477.95 L227.32,477.42 L228.04,476.88 L228.76,476.33 L229.47,475.78 L230.19,475.23 L230.91,474.67 L231.63,474.10 L232.35,473.53 L233.07,472.95 L233.79,472.37 L234.51,471.78 L235.23,471.19 L235.94,470.60 L236.66,470.00 L237.38,469.40 L238.10,468.79 L238.82,468.18 L239.54,467.56 L240.26,466.94 L240.98,466.32 L241.70,465.70 L242.42,465.07 L243.13,464.43 L243.85,463.80 L244.57,463.16 L245.29,462.52 L246.01,461.87 L246.73,461.22 L247.45,460.56 L248.17,459.89 L248.89,459.22 L249.61,458.53 L250.32,457.84 L251.04,457.14 L251.76,456.43 L252.48,455.72 L253.20,454.99 L253.92,454.26 L254.64,453.52 L255.36,452.77 L256.08,452.02 L256.80,451.26 L257.51,450.49 L258.23,449.71 L258.95,448.93 L259.67,448.14 L260.39,447.34 L261.11,446.53 L261.83,445.72 L262.55,444.90 L263.27,444.07 L263.99,443.24 L264.70,442.40 L265.42,441.56 L266.14,440.70 L266.86,439.85 L267.58,438.98 L268.30,438.11 L269.02,437.23 L269.74,436.35 L270.46,435.46 L271.18,434.56 L271.89,433.66 L272.61,432.75 L273.33,431.84 L274.05,430.92 L274.77,430.00 L275.49,429.07 L276.21,428.13 L276.93,427.19 L277.65,426.25 L278.37,425.29 L279.08,424.34 L279.80,423.38 L280.52,422.41 L281.24,421.44 L281.96,420.46 L282.68,419.48" fill="none" stroke="#4a8cf7" stroke-width="2.5" stroke-linecap="round"/>
<line x1="156.40" y1="499.60" x2="156.40" y2="517.00" stroke="#4a8cf7" stroke-width="1.0"/><line x1="152.80" y1="499.60" x2="160.00" y2="499.60" stroke="#4a8cf7" stroke-width="1.2"/><line x1="152.80" y1="517.00" x2="160.00" y2="517.00" stroke="#4a8cf7" stroke-width="1.2"/>
<line x1="209.80" y1="466.20" x2="209.80" y2="509.50" stroke="#4a8cf7" stroke-width="1.0"/><line x1="206.20" y1="466.20" x2="213.40" y2="466.20" stroke="#4a8cf7" stroke-width="1.2"/><line x1="206.20" y1="509.50" x2="213.40" y2="509.50" stroke="#4a8cf7" stroke-width="1.2"/>
<line x1="246.00" y1="450.70" x2="246.00" y2="472.00" stroke="#4a8cf7" stroke-width="1.0"/><line x1="242.40" y1="450.70" x2="249.60" y2="450.70" stroke="#4a8cf7" stroke-width="1.2"/><line x1="242.40" y1="472.00" x2="249.60" y2="472.00" stroke="#4a8cf7" stroke-width="1.2"/>
<line x1="282.60" y1="390.50" x2="282.60" y2="448.90" stroke="#4a8cf7" stroke-width="1.0"/><line x1="279.00" y1="390.50" x2="286.20" y2="390.50" stroke="#4a8cf7" stroke-width="1.2"/><line x1="279.00" y1="448.90" x2="286.20" y2="448.90" stroke="#4a8cf7" stroke-width="1.2"/>
<rect x="152.60" y="504.50" width="7.60" height="7.60" fill="#4a8cf7"/>
<rect x="206.00" y="484.00" width="7.60" height="7.60" fill="#4a8cf7"/>
<rect x="242.20" y="457.50" width="7.60" height="7.60" fill="#4a8cf7"/>
<rect x="278.80" y="415.70" width="7.60" height="7.60" fill="#4a8cf7"/>
<path d="M67.70,513.36 L68.42,513.33 L69.14,513.30 L69.86,513.28 L70.58,513.25 L71.29,513.22 L72.01,513.19 L72.73,513.17 L73.45,513.14 L74.17,513.11 L74.89,513.08 L75.61,513.05 L76.33,513.02 L77.05,512.99 L77.77,512.96 L78.48,512.93 L79.20,512.89 L79.92,512.86 L80.64,512.83 L81.36,512.80 L82.08,512.76 L82.80,512.73 L83.52,512.70 L84.24,512.66 L84.96,512.63 L85.67,512.59 L86.39,512.56 L87.11,512.52 L87.83,512.48 L88.55,512.45 L89.27,512.41 L89.99,512.37 L90.71,512.33 L91.43,512.29 L92.15,512.26 L92.86,512.22 L93.58,512.17 L94.30,512.13 L95.02,512.09 L95.74,512.05 L96.46,512.01 L97.18,511.97 L97.90,511.92 L98.62,511.88 L99.34,511.83 L100.05,511.79 L100.77,511.74 L101.49,511.70 L102.21,511.65 L102.93,511.60 L103.65,511.56 L104.37,511.51 L105.09,511.46 L105.81,511.41 L106.53,511.36 L107.24,511.31 L107.96,511.26 L108.68,511.21 L109.40,511.15 L110.12,511.10 L110.84,511.05 L111.56,510.99 L112.28,510.94 L113.00,510.88 L113.72,510.82 L114.43,510.77 L115.15,510.71 L115.87,510.65 L116.59,510.59 L117.31,510.53 L118.03,510.47 L118.75,510.41 L119.47,510.35 L120.19,510.28 L120.91,510.22 L121.62,510.16 L122.34,510.09 L123.06,510.02 L123.78,509.96 L124.50,509.89 L125.22,509.82 L125.94,509.75 L126.66,509.68 L127.38,509.61 L128.10,509.54 L128.81,509.46 L129.53,509.39 L130.25,509.32 L130.97,509.24 L131.69,509.16 L132.41,509.09 L133.13,509.01 L133.85,508.93 L134.57,508.85 L135.29,508.77 L136.00,508.69 L136.72,508.60 L137.44,508.52 L138.16,508.43 L138.88,508.35 L139.60,508.26 L140.32,508.17 L141.04,508.08 L141.76,507.99 L142.48,507.90 L143.19,507.81 L143.91,507.71 L144.63,507.62 L145.35,507.52 L146.07,507.42 L146.79,507.32 L147.51,507.22 L148.23,507.12 L148.95,507.02 L149.67,506.92 L150.38,506.81 L151.10,506.71 L151.82,506.60 L152.54,506.49 L153.26,506.38 L153.98,506.27 L154.70,506.16 L155.42,506.04 L156.14,505.93 L156.86,505.81 L157.57,505.69 L158.29,505.57 L159.01,505.45 L159.73,505.33 L160.45,505.21 L161.17,505.08 L161.89,504.95 L162.61,504.82 L163.33,504.69 L164.05,504.56 L164.76,504.43 L165.48,504.29 L166.20,504.16 L166.92,504.02 L167.64,503.88 L168.36,503.74 L169.08,503.59 L169.80,503.45 L170.52,503.30 L171.24,503.15 L171.95,503.00 L172.67,502.85 L173.39,502.70 L174.11,502.54 L174.83,502.38 L175.55,502.22 L176.27,502.06 L176.99,501.90 L177.71,501.73 L178.43,501.56 L179.14,501.39 L179.86,501.22 L180.58,501.05 L181.30,500.87 L182.02,500.69 L182.74,500.51 L183.46,500.33 L184.18,500.14 L184.90,499.96 L185.62,499.77 L186.33,499.57 L187.05,499.38 L187.77,499.18 L188.49,498.99 L189.21,498.78 L189.93,498.58 L190.65,498.37 L191.37,498.17 L192.09,497.95 L192.81,497.74 L193.52,497.52 L194.24,497.31 L194.96,497.08 L195.68,496.86 L196.40,496.63 L197.12,496.40 L197.84,496.17 L198.56,495.93 L199.28,495.70 L200.00,495.45 L200.71,495.21 L201.43,494.96 L202.15,494.71 L202.87,494.46 L203.59,494.20 L204.31,493.94 L205.03,493.68 L205.75,493.41 L206.47,493.15 L207.19,492.87 L207.90,492.60 L208.62,492.32 L209.34,492.04 L210.06,491.75 L210.78,491.46 L211.50,491.17 L212.22,490.87 L212.94,490.57 L213.66,490.27 L214.38,489.96 L215.09,489.65 L215.81,489.33 L216.53,489.02 L217.25,488.69 L217.97,488.37 L218.69,488.04 L219.41,487.70 L220.13,487.36 L220.85,487.02 L221.57,486.67 L222.28,486.32 L223.00,485.97 L223.72,485.61 L224.44,485.24 L225.16,484.88 L225.88,484.50 L226.60,484.12 L227.32,483.74 L228.04,483.36 L228.76,482.96 L229.47,482.57 L230.19,482.17 L230.91,481.76 L231.63,481.35 L232.35,480.93 L233.07,480.51 L233.79,480.09 L234.51,479.66 L235.23,479.22 L235.94,478.78 L236.66,478.33 L237.38,477.88 L238.10,477.42 L238.82,476.96 L239.54,476.49 L240.26,476.01 L240.98,475.53 L241.70,475.04 L242.42,474.55 L243.13,474.05 L243.85,473.55 L244.57,473.04 L245.29,472.52 L246.01,472.00 L246.73,471.47 L247.45,470.93 L248.17,470.39 L248.89,469.84 L249.61,469.28 L250.32,468.72 L251.04,468.15 L251.76,467.58 L252.48,466.99 L253.20,466.40 L253.92,465.80 L254.64,465.20 L255.36,464.59 L256.08,463.97 L256.80,463.34 L257.51,462.70 L258.23,462.06 L258.95,461.41 L259.67,460.75 L260.39,460.09 L261.11,459.41 L261.83,458.73 L262.55,458.04 L263.27,457.34 L263.99,456.63 L264.70,455.91 L265.42,455.19 L266.14,454.45 L266.86,453.71 L267.58,452.96 L268.30,452.20 L269.02,451.43 L269.74,450.65 L270.46,449.86 L271.18,449.06 L271.89,448.25 L272.61,447.43 L273.33,446.60 L274.05,445.76 L274.77,444.91 L275.49,444.05 L276.21,443.18 L276.93,442.30 L277.65,441.41 L278.37,440.51 L279.08,439.60 L279.80,438.67 L280.52,437.74 L281.24,436.79 L281.96,435.83 L282.68,434.86" fill="none" stroke="#d42b2b" stroke-width="2.3" stroke-linecap="round"/>
<line x1="156.40" y1="500.60" x2="156.40" y2="518.20" stroke="#d42b2b" stroke-width="1.0"/><line x1="152.80" y1="500.60" x2="160.00" y2="500.60" stroke="#d42b2b" stroke-width="1.2"/><line x1="152.80" y1="518.20" x2="160.00" y2="518.20" stroke="#d42b2b" stroke-width="1.2"/>
<line x1="209.80" y1="459.00" x2="209.80" y2="511.20" stroke="#d42b2b" stroke-width="1.0"/><line x1="206.20" y1="459.00" x2="213.40" y2="459.00" stroke="#d42b2b" stroke-width="1.2"/><line x1="206.20" y1="511.20" x2="213.40" y2="511.20" stroke="#d42b2b" stroke-width="1.2"/>
<line x1="246.00" y1="454.70" x2="246.00" y2="491.00" stroke="#d42b2b" stroke-width="1.0"/><line x1="242.40" y1="454.70" x2="249.60" y2="454.70" stroke="#d42b2b" stroke-width="1.2"/><line x1="242.40" y1="491.00" x2="249.60" y2="491.00" stroke="#d42b2b" stroke-width="1.2"/>
<line x1="282.60" y1="406.60" x2="282.60" y2="462.10" stroke="#d42b2b" stroke-width="1.0"/><line x1="279.00" y1="406.60" x2="286.20" y2="406.60" stroke="#d42b2b" stroke-width="1.2"/><line x1="279.00" y1="462.10" x2="286.20" y2="462.10" stroke="#d42b2b" stroke-width="1.2"/>
<circle cx="156.40" cy="509.60" r="4.2" fill="#d42b2b"/>
<circle cx="209.80" cy="485.30" r="4.2" fill="#d42b2b"/>
<circle cx="246.00" cy="472.20" r="4.2" fill="#d42b2b"/>
<circle cx="282.60" cy="434.50" r="4.2" fill="#d42b2b"/>
<line x1="326.4" y1="356.4" x2="346.9" y2="356.4" stroke="#d42b2b" stroke-width="2"/>
<circle cx="336.60" cy="356.40" r="4.4" fill="#d42b2b"/>
<text x="358.7" y="362.2" class="lg" style="font-size:11.65px">Prediction (R-N<tspan font-size="8.5" dy="-5">2</tspan><tspan dy="5">-CEdG formation in WM-266-4 cells_3 h exposure)</tspan></text>
<line x1="326.4" y1="379.8" x2="346.9" y2="379.8" stroke="#4a8cf7" stroke-width="2"/>
<rect x="332.50" y="375.70" width="8.20" height="8.20" fill="#4a8cf7"/>
<text x="358.7" y="385.6" class="lg" style="font-size:11.65px">Prediction (S-N<tspan font-size="8.5" dy="-5">2</tspan><tspan dy="5">-CEdG formation in WM-266-4 cells_3 h exposure)</tspan></text>
</svg></body></html>
